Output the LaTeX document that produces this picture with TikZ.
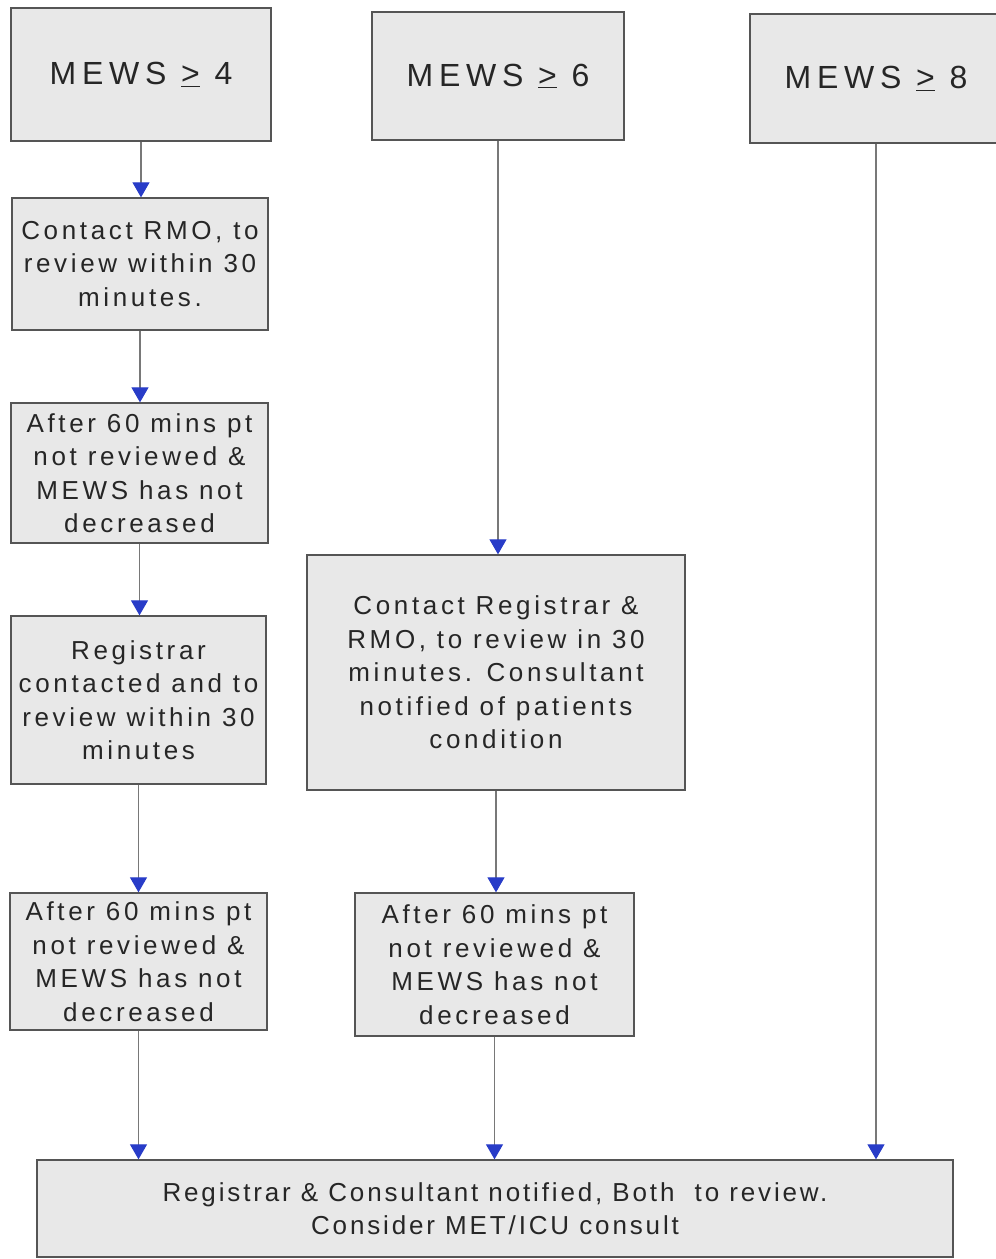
\documentclass[tikz,border=0pt]{standalone}
\usepackage{fontspec}
\setmainfont{Liberation Sans}[LetterSpace=14]
\newfontfamily\titlefont{Liberation Sans}[LetterSpace=18]
\newfontfamily\bottomfont{Liberation Sans}[LetterSpace=11]
\usetikzlibrary{arrows.meta}
\definecolor{boxfill}{RGB}{232,232,232}
\definecolor{boxline}{RGB}{85,85,85}
\definecolor{linegray}{RGB}{120,120,120}
\definecolor{tipblue}{RGB}{40,60,200}
\tikzset{
  box/.style={draw=boxline, line width=1.3pt, fill=boxfill, rectangle, inner sep=0pt, align=center,
    font=\fontsize{26}{33.5}\selectfont, text=black!85},
  titlebox/.style={box, font=\titlefont\fontsize{32}{36}\selectfont},
  conn/.style={draw=linegray, line width=1.1pt, -{Triangle[width=17pt,length=15pt,color=tipblue]}}
}
\begin{document}
\begin{tikzpicture}[x=1pt,y=-1pt]
\useasboundingbox (0,0) rectangle (996,1259);
% top row
\node[titlebox, minimum width=260pt, minimum height=133pt] (a1) at (141,74.5) {MEWS \underline{>} 4};
\node[titlebox, minimum width=252pt, minimum height=128pt] (a2) at (498,76) {MEWS \underline{>} 6};
\node[titlebox, minimum width=252pt, minimum height=129pt] (a3) at (876,78.5) {MEWS \underline{>} 8};
% column 1
\node[box, minimum width=256pt, minimum height=132pt] (b1) at (140,264) {Contact RMO, to\\review within 30\\minutes.};
\node[box, minimum width=257pt, minimum height=140pt] (c1) at (139.5,473) {After 60 mins pt\\not reviewed \&\\MEWS has not\\decreased};
\node[box, minimum width=255pt, minimum height=168pt] (d1) at (138.5,700) {Registrar\\contacted and to\\review within 30\\minutes};
\node[box, minimum width=257pt, minimum height=137pt] (e1) at (138.5,961.5) {After 60 mins pt\\not reviewed \&\\MEWS has not\\decreased};
% column 2
\node[box, minimum width=378pt, minimum height=235pt] (m) at (496,672.5) {Contact Registrar \&\\RMO, to review in 30\\minutes. Consultant\\notified of patients\\condition};
\node[box, minimum width=279pt, minimum height=143pt] (e2) at (494.5,964.5) {After 60 mins pt\\not reviewed \&\\MEWS has not\\decreased};
% bottom
\node[box, font=\bottomfont\fontsize{26}{33.5}\selectfont, minimum width=916pt, minimum height=97pt] (f) at (495,1208.5) {Registrar \& Consultant notified, Both\ \ to review.\\Consider MET/ICU consult};
% connectors
\draw[conn] (a1.south) -- (a1.south |- b1.north);
\draw[conn] (b1.south) -- (b1.south |- c1.north);
\draw[conn] (c1.south) -- (c1.south |- d1.north);
\draw[conn] (d1.south) -- (d1.south |- e1.north);
\draw[conn] (e1.south) -- (e1.south |- f.north);
\draw[conn] (a2.south) -- (a2.south |- m.north);
\draw[conn] (m.south) -- (m.south |- e2.north);
\draw[conn] (e2.south) -- (e2.south |- f.north);
\draw[conn] (a3.south) -- (a3.south |- f.north);
\end{tikzpicture}
\end{document}
